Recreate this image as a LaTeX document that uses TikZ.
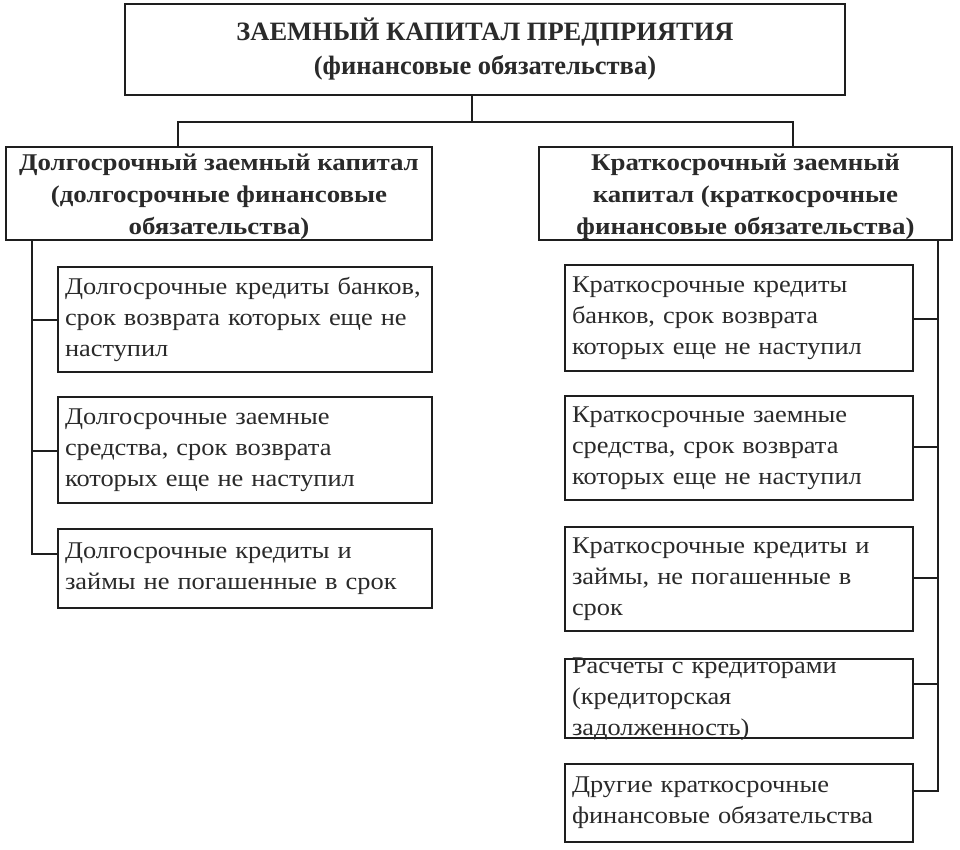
\documentclass[tikz,border=0pt]{standalone}
\usepackage{fontspec}
\setmainfont{Liberation Serif}
\newfontfamily\bodyfont[FakeStretch=1.1]{Liberation Serif}
\newfontfamily\headfont[FakeStretch=1.12]{Liberation Serif}
\definecolor{linec}{HTML}{1E1E1E}
\definecolor{textc}{HTML}{2A2A2A}
\tikzset{
  wire/.style={draw=linec, line width=2.4pt},
  topbox/.style={draw=linec, line width=2.4pt, minimum width=720pt, minimum height=91pt,
    align=center, inner sep=0pt, text=textc, font=\bfseries\fontsize{26.5}{34}\selectfont},
  headbox/.style={draw=linec, line width=2.4pt, minimum height=93pt, inner sep=0pt,
    align=center, text=textc, font=\headfont\bfseries\fontsize{24}{32}\selectfont},
  itembox/.style={draw=linec, line width=2pt, align=left, inner xsep=7pt, inner ysep=0pt,
    text=textc, font=\bodyfont\fontsize{24}{31}\selectfont},
  itemtext/.style={align=left, inner sep=0pt, text=textc, font=\bodyfont\fontsize{24}{31}\selectfont},
  leftitem/.style={itembox, text width=360pt, minimum width=374pt},
  rightitem/.style={itembox, text width=334pt, minimum width=348pt},
}
\begin{document}
\begin{tikzpicture}[x=1pt,y=-1pt]
\useasboundingbox[fill=white] (0,0) rectangle (960,850);

\node[topbox] (top) at (485,49.5) {ЗАЕМНЫЙ КАПИТАЛ ПРЕДПРИЯТИЯ\\(финансовые обязательства)};

\node[headbox, minimum width=426pt] (lhead) at (219,193.5)
  {\rule{0pt}{1em}Долгосрочный заемный капитал\\(долгосрочные финансовые\\обязательства)};
\node[headbox, minimum width=413pt] (rhead) at (745.5,193.5)
  {\rule{0pt}{1em}Краткосрочный заемный\\капитал (краткосрочные\\финансовые обязательства)};

% left items
\node[leftitem, minimum height=105pt] (l1) at (245,319.5)
  {Долгосрочные кредиты банков,\\срок возврата которых еще не\\наступил};
\node[leftitem, minimum height=106pt] (l2) at (245,450)
  {Долгосрочные заемные\\средства, срок возврата\\которых еще не наступил};
\node[leftitem, minimum height=79pt] (l3) at (245,568.5)
  {Долгосрочные кредиты и\\займы не погашенные в срок};

% right items
\node[rightitem, minimum height=106pt] (r1) at (739,318)
  {Краткосрочные кредиты\\банков, срок возврата\\которых еще не наступил};
\node[rightitem, minimum height=104pt] (r2) at (739,448)
  {Краткосрочные заемные\\средства, срок возврата\\которых еще не наступил};
\node[rightitem, minimum height=104pt] (r3) at (739,579)
  {Краткосрочные кредиты и\\займы, не погашенные в\\срок};
\node[draw=linec, line width=2pt, minimum width=348pt, minimum height=79pt, inner sep=0pt] (r4) at (739,698.5) {};
\node[itemtext, text width=334pt] (r4t) at (739,699)
  {Расчеты с кредиторами\\(кредиторская\\задолженность)};
\node[rightitem, minimum height=78pt] (r5) at (739,803)
  {Другие краткосрочные\\финансовые обязательства};

% top connectors
\coordinate (tj) at (472,122);
\draw[wire] (top.south -| tj) -- (tj);
\draw[wire] (lhead.north -| 178,0) |- (tj) -| (rhead.north -| 793,0);

% left spine
\coordinate (ls) at (32,240);
\coordinate (lsb) at (32,554);
\draw[wire] (ls) -- (lsb) -- (l3.west |- lsb);
\draw[wire] (32,320) -- (l1.west |- 0,320);
\draw[wire] (32,451) -- (l2.west |- 0,451);

% right spine
\coordinate (rs) at (938,240);
\coordinate (rsb) at (938,791);
\draw[wire] (rs) -- (rsb) -- (r5.east |- rsb);
\draw[wire] (938,319) -- (r1.east |- 0,319);
\draw[wire] (938,447) -- (r2.east |- 0,447);
\draw[wire] (938,578) -- (r3.east |- 0,578);
\draw[wire] (938,684) -- (r4.east |- 0,684);
\end{tikzpicture}
\end{document}
